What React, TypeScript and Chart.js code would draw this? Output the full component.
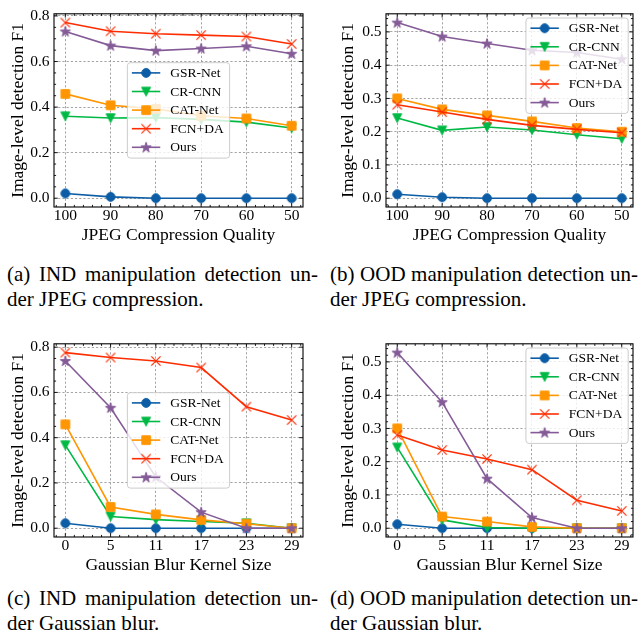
import React, { useEffect, useRef } from "react";
import { Chart, registerables } from "chart.js";
Chart.register(...registerables);

const FONT = '"Liberation Serif", "Times New Roman", Times, serif';

const METHODS = ["GSR-Net", "CR-CNN", "CAT-Net", "FCN+DA", "Ours"];
const COLORS = ["#0C5DA5", "#00B945", "#FF9500", "#FF2C00", "#845B97"];
const MARKERS = ["circle", "triangleDown", "square", "x", "star"];

const JPEG_QUALITY = ["100", "90", "80", "70", "60", "50"];
const BLUR_KERNEL = ["0", "5", "11", "17", "23", "29"];

const TICKS_IND = [0, 0.2, 0.4, 0.6, 0.8];
const TICKS_OOD = [0, 0.1, 0.2, 0.3, 0.4, 0.5];

// (a) IND, JPEG compression
const indJpegGsrNet = [0.021, 0.006, 0.0, 0.0, 0.0, 0.0];
const indJpegCrCnn = [0.36, 0.352, 0.354, 0.346, 0.334, 0.308];
const indJpegCatNet = [0.458, 0.408, 0.392, 0.362, 0.35, 0.318];
const indJpegFcnDa = [0.771, 0.733, 0.722, 0.716, 0.71, 0.677];
const indJpegOurs = [0.732, 0.67, 0.648, 0.657, 0.667, 0.634];

// (b) OOD, JPEG compression
const oodJpegGsrNet = [0.012, 0.003, 0.0, 0.0, 0.0, 0.0];
const oodJpegCrCnn = [0.241, 0.204, 0.214, 0.205, 0.191, 0.179];
const oodJpegCatNet = [0.3, 0.267, 0.249, 0.231, 0.211, 0.2];
const oodJpegFcnDa = [0.281, 0.259, 0.237, 0.219, 0.207, 0.197];
const oodJpegOurs = [0.528, 0.486, 0.465, 0.445, 0.438, 0.418];

// (c) IND, Gaussian blur
const indBlurGsrNet = [0.022, 0.0, 0.0, 0.0, 0.0, 0.0];
const indBlurCrCnn = [0.367, 0.052, 0.038, 0.03, 0.022, 0.0];
const indBlurCatNet = [0.459, 0.094, 0.061, 0.037, 0.02, 0.0];
const indBlurFcnDa = [0.776, 0.754, 0.739, 0.71, 0.537, 0.478];
const indBlurOurs = [0.739, 0.532, 0.226, 0.071, 0.0, 0.0];

// (d) OOD, Gaussian blur
const oodBlurGsrNet = [0.012, 0.0, 0.0, 0.0, 0.0, 0.0];
const oodBlurCrCnn = [0.243, 0.025, 0.002, 0.0, 0.0, 0.0];
const oodBlurCatNet = [0.3, 0.035, 0.02, 0.004, 0.0, 0.0];
const oodBlurFcnDa = [0.28, 0.235, 0.208, 0.176, 0.084, 0.052];
const oodBlurOurs = [0.528, 0.379, 0.149, 0.032, 0.0, 0.0];

const TICK_FONT = 15.5;
const TITLE_FONT = 17.5;
const LEGEND_FONT = 13.5;
const CAPTION_FONT = 21;

function makeMarker(kind: string, color: string): HTMLCanvasElement {
  const c = document.createElement("canvas");
  c.width = 16;
  c.height = 16;
  const g = c.getContext("2d")!;
  g.fillStyle = color;
  g.strokeStyle = color;
  g.lineWidth = 1;
  g.lineJoin = "miter";
  const cx = 8, cy = 8;
  g.beginPath();
  if (kind === "circle") {
    g.arc(cx, cy, 4.4, 0, Math.PI * 2);
    g.fill();
    g.stroke();
  } else if (kind === "triangleDown") {
    g.moveTo(cx - 4.5, cy - 4.2);
    g.lineTo(cx + 4.5, cy - 4.2);
    g.lineTo(cx, cy + 4.6);
    g.closePath();
    g.fill();
    g.stroke();
  } else if (kind === "square") {
    g.rect(cx - 4.3, cy - 4.3, 8.6, 8.6);
    g.fill();
    g.stroke();
  } else if (kind === "x") {
    g.lineWidth = 1.2;
    g.moveTo(cx - 4.6, cy - 4.6);
    g.lineTo(cx + 4.6, cy + 4.6);
    g.moveTo(cx + 4.6, cy - 4.6);
    g.lineTo(cx - 4.6, cy + 4.6);
    g.stroke();
  } else if (kind === "star") {
    const R = 5.4, r = R * 0.382;
    for (let k = 0; k < 10; k++) {
      const a = -Math.PI / 2 + (k * Math.PI) / 5;
      const rr = k % 2 === 0 ? R : r;
      const px = cx + rr * Math.cos(a), py = cy + 0.3 + rr * Math.sin(a);
      if (k === 0) g.moveTo(px, py);
      else g.lineTo(px, py);
    }
    g.closePath();
    g.fill();
    g.stroke();
  }
  return c;
}

const framePlugin = {
  id: "sciFrame",
  afterDatasetsDraw(chart: any, _args: any, opts: any) {
    const { ctx, chartArea: a, scales } = chart;
    const xs = scales.x, ys = scales.y;
    ctx.save();
    ctx.strokeStyle = "#000";
    ctx.lineWidth = 1.1;
    ctx.strokeRect(a.left, a.top, a.right - a.left, a.bottom - a.top);
    const MAJ = 3.8, MIN = 2.1;
    ctx.lineWidth = 0.9;
    const seg = (x1: number, y1: number, x2: number, y2: number) => {
      ctx.beginPath();
      ctx.moveTo(x1, y1);
      ctx.lineTo(x2, y2);
      ctx.stroke();
    };
    const xMajors: number[] = opts.xMajors;
    const yMajors: number[] = opts.yMajors;
    const isMajor = (v: number, arr: number[]) => arr.some((m) => Math.abs(m - v) < 1e-6);
    for (const v of xMajors) {
      const x = xs.getPixelForValue(v);
      seg(x, a.bottom, x, a.bottom - MAJ);
      seg(x, a.top, x, a.top + MAJ);
    }
    for (let k = Math.ceil(xs.min / opts.xMinor - 1e-9); k * opts.xMinor <= xs.max + 1e-9; k++) {
      const v = k * opts.xMinor;
      if (isMajor(v, xMajors)) continue;
      const x = xs.getPixelForValue(v);
      seg(x, a.bottom, x, a.bottom - MIN);
      seg(x, a.top, x, a.top + MIN);
    }
    for (const v of yMajors) {
      const y = ys.getPixelForValue(v);
      seg(a.left, y, a.left + MAJ, y);
      seg(a.right, y, a.right - MAJ, y);
    }
    for (let k = Math.ceil(ys.min / opts.yMinor - 1e-9); k * opts.yMinor <= ys.max + 1e-9; k++) {
      const v = k * opts.yMinor;
      if (isMajor(v, yMajors)) continue;
      const y = ys.getPixelForValue(v);
      seg(a.left, y, a.left + MIN, y);
      seg(a.right, y, a.right - MIN, y);
    }
    ctx.restore();
  },
};

const legendPlugin = {
  id: "sciLegend",
  afterDatasetsDraw(chart: any, _args: any, opts: any) {
    const { ctx, chartArea: a } = chart;
    const ds = chart.data.datasets;
    ctx.save();
    ctx.font = `${LEGEND_FONT}px ${FONT}`;
    const maxW = Math.max(...ds.map((d: any) => ctx.measureText(d.label).width));
    const PAD_L = 4.5, HANDLE = 28.4, GAP = 10, PAD_R = 6, TOP = 10.2, ROW = 18.6, BOT = 10.8;
    const w = PAD_L + HANDLE + GAP + maxW + PAD_R;
    const h = TOP + ROW * (ds.length - 1) + BOT;
    let x0: number, y0: number;
    if (opts.loc === "center") {
      x0 = (a.left + a.right) / 2 - w / 2;
      y0 = (a.top + a.bottom) / 2 - h / 2;
    } else {
      x0 = a.right - 4.8 - w;
      y0 = a.top + 4.2;
    }
    const rad = 3;
    ctx.beginPath();
    ctx.roundRect(x0, y0, w, h, rad);
    ctx.fillStyle = "rgba(255,255,255,0.8)";
    ctx.fill();
    ctx.strokeStyle = "#cccccc";
    ctx.lineWidth = 1;
    ctx.stroke();
    ds.forEach((d: any, i: number) => {
      const y = y0 + TOP + i * ROW;
      ctx.strokeStyle = d.borderColor;
      ctx.lineWidth = d.borderWidth;
      ctx.beginPath();
      ctx.moveTo(x0 + PAD_L, y);
      ctx.lineTo(x0 + PAD_L + HANDLE, y);
      ctx.stroke();
      const img = d.pointStyle as HTMLCanvasElement;
      ctx.drawImage(img, x0 + PAD_L + HANDLE / 2 - img.width / 2, y - img.height / 2);
      ctx.fillStyle = "#000";
      ctx.textBaseline = "middle";
      ctx.textAlign = "left";
      ctx.fillText(d.label, x0 + PAD_L + HANDLE + GAP, y + 0.5);
    });
    ctx.restore();
  },
};

type PanelProps = {
  left: number;
  top: number;
  cats: string[];
  series: number[][];
  yTicks: number[];
  yMinor: number;
  legendLoc: string;
  xTitle: string;
  plotLeft: number;
  plotRight: number;
  yTitleCenter: number;
};

const CANVAS_W = 320;
const CANVAS_H = 250;
const PLOT_TOP = 13;
const PLOT_BOTTOM = 207;

function Panel(p: PanelProps) {
  const ref = useRef<HTMLCanvasElement>(null);
  useEffect(() => {
    const all = p.series.flat();
    const dmax = Math.max(...all), dmin = Math.min(...all);
    const span = dmax - dmin;
    const n = p.cats.length;
    const markerImgs = MARKERS.map((m, i) => makeMarker(m, COLORS[i]));
    const titleLH = TITLE_FONT * 1.2;
    const chart = new Chart(ref.current!, {
      type: "line",
      data: {
        datasets: p.series.map((vals, i) => ({
          label: METHODS[i],
          data: vals.map((v, j) => ({ x: j, y: v })),
          borderColor: COLORS[i],
          backgroundColor: COLORS[i],
          borderWidth: 1.6,
          pointStyle: markerImgs[i] as any,
          pointRadius: 5,
          pointHoverRadius: 5,
          order: 10 - i,
          tension: 0,
          clip: false as any,
        })),
      },
      options: {
        animation: false,
        responsive: false,
        devicePixelRatio: 1,
        events: [],
        layout: {
          padding: { left: 0, top: PLOT_TOP, right: CANVAS_W - p.plotRight, bottom: 0 },
        },
        plugins: {
          legend: { display: false },
          tooltip: { enabled: false },
          sciFrame: { xMajors: p.cats.map((_, i) => i), yMajors: p.yTicks, xMinor: 0.2, yMinor: p.yMinor },
          sciLegend: { loc: p.legendLoc },
        } as any,
        scales: {
          x: {
            type: "linear",
            min: -0.05 * (n - 1),
            max: (n - 1) * 1.05,
            afterBuildTicks: (s: any) => {
              s.ticks = p.cats.map((_, i) => ({ value: i }));
            },
            afterFit: (s: any) => {
              s.height = CANVAS_H - PLOT_BOTTOM;
            },
            ticks: {
              callback: (v: any) => p.cats[Math.round(Number(v))],
              autoSkip: false,
              maxRotation: 0,
              minRotation: 0,
              padding: 0,
              color: "#000",
              font: { family: FONT, size: TICK_FONT },
            },
            grid: { drawTicks: false, color: "#9a9a9a", lineWidth: 0.9 },
            border: { display: false, dash: [2.2, 2] },
            title: {
              display: true,
              text: p.xTitle,
              color: "#000",
              font: { family: FONT, size: TITLE_FONT },
              padding: { top: 0, bottom: 4.5 },
            },
          },
          y: {
            type: "linear",
            min: dmin - 0.05 * span,
            max: dmax + 0.05 * span,
            afterBuildTicks: (s: any) => {
              s.ticks = p.yTicks.map((v) => ({ value: v }));
            },
            afterFit: (s: any) => {
              s.width = p.plotLeft;
            },
            ticks: {
              callback: (v: any) => Number(v).toFixed(1),
              autoSkip: false,
              padding: 4.5,
              color: "#000",
              font: { family: FONT, size: TICK_FONT },
            },
            grid: { drawTicks: false, color: "#9a9a9a", lineWidth: 0.9 },
            border: { display: false, dash: [2.2, 2] },
            title: {
              display: true,
              text: "Image-level detection F1",
              color: "#000",
              font: { family: FONT, size: TITLE_FONT },
              padding: { top: p.yTitleCenter - titleLH / 2, bottom: 0 },
            },
          },
        },
      },
      plugins: [framePlugin, legendPlugin],
    } as any);
    return () => chart.destroy();
  }, []);
  return (
    <canvas
      ref={ref}
      width={CANVAS_W}
      height={CANVAS_H}
      style={{ position: "absolute", left: p.left, top: p.top, width: CANVAS_W, height: CANVAS_H }}
    />
  );
}

function Caption({ left, top, width, line1, line2 }: { left: number; top: number; width: number; line1: string; line2: string }) {
  return (
    <div
      style={{
        position: "absolute",
        left,
        top,
        width,
        fontFamily: FONT,
        fontSize: CAPTION_FONT,
        lineHeight: "25px",
        color: "#000",
        whiteSpace: "nowrap",
      }}
    >
      <div style={{ textAlign: "justify", textAlignLast: "justify" as any }}>{line1}</div>
      <div>{line2}</div>
    </div>
  );
}

const ROW2 = 330;

export default function App() {
  return (
    <div style={{ position: "absolute", left: 0, top: 0, width: 640, height: 635, background: "#fff", overflow: "hidden" }}>
      <Panel
        left={0}
        top={0}
        cats={JPEG_QUALITY}
        series={[indJpegGsrNet, indJpegCrCnn, indJpegCatNet, indJpegFcnDa, indJpegOurs]}
        yTicks={TICKS_IND}
        yMinor={0.05}
        legendLoc="center"
        xTitle="JPEG Compression Quality"
        plotLeft={54}
        plotRight={303}
        yTitleCenter={18.5}
      />
      <Panel
        left={320}
        top={0}
        cats={JPEG_QUALITY}
        series={[oodJpegGsrNet, oodJpegCrCnn, oodJpegCatNet, oodJpegFcnDa, oodJpegOurs]}
        yTicks={TICKS_OOD}
        yMinor={0.02}
        legendLoc="upper right"
        xTitle="JPEG Compression Quality"
        plotLeft={66}
        plotRight={313}
        yTitleCenter={28.5}
      />
      <Panel
        left={0}
        top={ROW2}
        cats={BLUR_KERNEL}
        series={[indBlurGsrNet, indBlurCrCnn, indBlurCatNet, indBlurFcnDa, indBlurOurs]}
        yTicks={TICKS_IND}
        yMinor={0.05}
        legendLoc="center"
        xTitle="Gaussian Blur Kernel Size"
        plotLeft={54}
        plotRight={303}
        yTitleCenter={18.5}
      />
      <Panel
        left={320}
        top={ROW2}
        cats={BLUR_KERNEL}
        series={[oodBlurGsrNet, oodBlurCrCnn, oodBlurCatNet, oodBlurFcnDa, oodBlurOurs]}
        yTicks={TICKS_OOD}
        yMinor={0.02}
        legendLoc="upper right"
        xTitle="Gaussian Blur Kernel Size"
        plotLeft={66}
        plotRight={313}
        yTitleCenter={28.5}
      />
      <Caption left={7} top={262} width={311} line1="(a) IND manipulation detection un-" line2="der JPEG compression." />
      <Caption left={330} top={262} width={308} line1="(b) OOD manipulation detection un-" line2="der JPEG compression." />
      <Caption left={7} top={ROW2 + 256} width={311} line1="(c) IND manipulation detection un-" line2="der Gaussian blur." />
      <Caption left={330} top={ROW2 + 256} width={308} line1="(d) OOD manipulation detection un-" line2="der Gaussian blur." />
    </div>
  );
}
